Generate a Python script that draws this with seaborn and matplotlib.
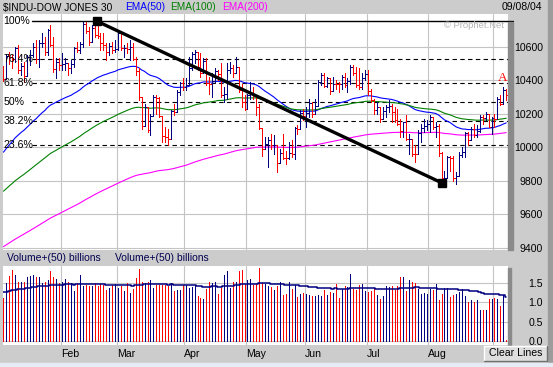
import numpy as np
import pandas as pd
import matplotlib
matplotlib.use("Agg")
import matplotlib.pyplot as plt
import seaborn as sns
from matplotlib.patches import Rectangle
from matplotlib.lines import Line2D

# ---------------- data ----------------
opens = [10454,10409,10544,10538,10529,10592,10458,10485,10427,10538,10553,10600,10528,10623,10623,10568,10702,10610,10468,10510,
         10488,10499,10505,10470,10495,10593,10579,10613,10737,10694,10627,10714,10671,10665,10619,10609,10566,10601,10581,
         10584,10679,10591,10593,10588,10595,10529,10457,10297,10128,10240,10102,10184,10300,10295,10186,10064,10063,10048,10218,10212,10329,10381,
         10357,10373,10470,10558,10570,10480,10442,10515,10381,10377,10397,10452,10437,10314,10318,10461,10472,10444,10478,10343,10272,
         10225,10314,10317,10310,10241,10117,9990,10019,10045,10010,10012,9906,9968,9938,9937,9966,9958,10117,10109,10205,
         10188,10202,10262,10196,10243,10391,10432,10368,10410,10334,10380,10379,10378,10416,10371,10395,10479,10443,10371,10357,10413,
         10435,10334,10282,10219,10240,10171,10213,10238,10247,10208,10163,10140,10094,10149,10046,10050,9962,9961,10085,10117,10129,
         10140,10179,10120,10126,9963,9815,9815,9944,9938,9814,9825,9954,9972,10083,10040,10110,10073,10099,10181,10174,10196,10122,
         10174,10168,10290,10260,10342]
highs = [10484,10556,10569,10548,10600,10610,10502,10510,10550,10580,10620,10640,10640,10680,10660,10705,10730,10660,10530,10530,
         10560,10530,10505,10520,10600,10630,10630,10745,10745,10720,10730,10730,10753,10680,10680,10620,10620,10630,10640,
         10690,10690,10610,10620,10640,10620,10540,10470,10300,10260,10240,10200,10310,10310,10300,10186,10120,10110,10220,10260,10340,10390,10410,
         10410,10540,10570,10580,10570,10560,10530,10530,10420,10440,10470,10460,10500,10360,10500,10510,10490,10540,10480,10380,10310,
         10320,10390,10360,10310,10260,10117,10060,10060,10080,10070,10012,9990,10080,9980,10030,10040,10120,10130,10220,10230,
         10240,10290,10270,10290,10400,10440,10440,10420,10410,10420,10400,10390,10430,10440,10410,10490,10490,10480,10470,10440,10460,
         10460,10350,10290,10270,10240,10240,10250,10280,10260,10240,10230,10170,10150,10190,10080,10050,10010,10100,10140,10170,10160,
         10190,10180,10150,10140,9970,9860,9950,9950,9945,9850,9970,10000,10090,10090,10120,10140,10130,10190,10190,10210,10200,10180,
         10200,10300,10310,10360,10350]
lows = [10395,10409,10497,10470,10509,10443,10430,10390,10427,10490,10540,10505,10480,10600,10550,10550,10605,10450,10410,10460,
        10460,10460,10430,10440,10480,10570,10560,10600,10680,10610,10627,10660,10650,10580,10580,10520,10550,10560,10570,
        10580,10580,10540,10560,10520,10520,10430,10280,10110,10128,10090,10070,10184,10200,10180,10030,10030,10015,10048,10190,10212,10310,10340,
        10340,10373,10460,10500,10460,10420,10442,10370,10320,10300,10390,10400,10300,10270,10290,10440,10420,10440,10330,10240,10220,
        10225,10290,10290,10190,10110,9950,9990,9880,9990,9960,9850,9906,9930,9900,9930,9940,9930,10080,10109,10160,
        10120,10180,10180,10196,10243,10370,10360,10360,10320,10334,10350,10330,10350,10360,10330,10380,10430,10360,10350,10350,10400,
        10310,10270,10200,10200,10150,10171,10180,10210,10150,10150,10130,10060,10060,10040,9960,9950,9910,9961,10030,10090,10100,
        10090,10110,10060,9950,9790,9800,9815,9860,9800,9780,9825,9940,9940,10010,10040,10060,10060,10090,10140,10160,10120,10080,
        10120,10168,10250,10260,10280]
closes = [10409,10544,10538,10529,10592,10458,10485,10427,10538,10553,10600,10528,10623,10623,10568,10702,10610,10468,10510,10488,
          10499,10505,10470,10495,10593,10579,10613,10737,10694,10627,10714,10671,10665,10619,10609,10566,10601,10581,10584,
          10679,10591,10593,10588,10595,10529,10457,10297,10128,10240,10102,10184,10300,10295,10186,10064,10063,10048,10218,10212,10329,10381,10357,
          10373,10470,10558,10570,10480,10442,10515,10381,10377,10397,10452,10437,10314,10318,10461,10472,10444,10478,10343,10272,10225,
          10314,10317,10310,10241,10117,9990,10019,10045,10010,10012,9906,9968,9938,9937,9966,9958,10117,10109,10205,10188,
          10202,10262,10196,10243,10391,10432,10368,10410,10334,10380,10379,10378,10416,10371,10395,10479,10443,10371,10357,10413,10435,
          10334,10282,10219,10240,10171,10213,10238,10247,10208,10163,10140,10094,10149,10046,10050,9962,9961,10085,10117,10129,10140,
          10179,10120,10126,9963,9815,9815,9944,9938,9814,9825,9954,9972,10083,10040,10110,10073,10099,10181,10174,10196,10122,10174,
          10168,10290,10260,10342,10313]
volumes = [1.11,1.49,1.68,1.83,1.71,1.53,1.51,1.53,1.66,1.68,
           1.69,1.66,1.66,1.49,1.51,1.56,1.79,1.64,1.59,1.49,
           1.53,1.59,1.53,1.49,1.28,1.49,1.69,1.41,1.45,1.41,
           1.41,1.49,1.41,1.47,1.45,1.32,1.36,1.45,1.47,1.36,
           1.41,1.28,1.49,1.24,1.34,1.62,1.85,1.51,1.49,1.51,
           1.58,1.36,1.43,1.43,1.43,1.45,1.42,1.49,1.28,1.32,
           1.32,1.44,1.45,1.36,1.38,1.43,1.15,1.11,1.08,1.34,
           1.53,1.49,1.51,1.21,1.36,1.71,1.79,1.36,1.53,1.51,
           1.79,1.83,1.47,1.58,1.59,1.45,1.48,1.88,1.49,1.48,
           1.41,
           1.40,1.31,1.41,1.52,1.18,1.21,1.52,1.33,1.44,1.14,
           1.22,1.24,1.21,1.18,1.16,1.16,1.18,1.16,1.31,1.18,
           1.26,1.24,1.47,1.12,1.33,1.41,1.39,1.72,1.33,1.31,
           1.44,1.47,1.29,1.26,1.29,1.33,1.18,1.09,1.16,1.41,
           1.38,1.41,1.31,1.41,1.64,1.66,1.29,1.57,1.51,1.50,
           1.33,1.21,1.24,1.22,1.33,1.31,1.48,1.05,1.22,1.36,
           1.36,1.14,1.18,1.22,1.25,1.33,1.16,1.01,1.05,1.01,
           1.05,0.81,0.81,0.81,1.09,1.09,1.12,1.07,0.90,1.18,0.03]

month_starts = [20, 39, 62, 83, 103, 124, 145, 167]
month_labels = ["Feb", "Mar", "Apr", "May", "Jun", "Jul", "Aug", ""]
price_ticks = [9400, 9600, 9800, 10000, 10200, 10400, 10600]
price_tick_labels = ["9400", "9600", "9800", "10000", "10200", "10400", "10600"]
vol_ticks = [0.0, 0.5, 1.0, 1.5]
vol_tick_labels = ["0.0", "0.5", "1.0", "1.5"]
trend_x = [31.8, 149.2]
trend_y = [10752, 9786]
fib_ratios = [1.0, 0.764, 0.618, 0.5, 0.382, 0.236]
fib_labels = ["100%", "76.4%", "61.8%", "50%", "38.2%", "23.6%"]
ema_periods = [50, 100, 200]
ema_seeds = [9970, 9737, 9406]
ema_colors = ["#0000ff", "#008000", "#ff00ff"]
vol_ma_period = 50
vol_ma_seed = 1.26
a_mark = (169.9, 10413)

# ---------------- helpers ----------------
def ema(values, period, seed):
    a = 2.0 / (period + 1)
    out = [seed]
    for v in values[1:]:
        out.append(out[-1] + a * (v - out[-1]))
    return np.array(out)

n = len(closes)
x = np.arange(n)
RED, NAVY = "#ff0000", "#000080"
colors = []
for i in range(n):
    ref = opens[0] if i == 0 else closes[i - 1]
    colors.append(RED if closes[i] < ref else NAVY)

sns.set_theme(style="white")
plt.rcParams["font.family"] = ["Liberation Sans", "DejaVu Sans"]

W, H = 553, 367
BG = "#cccccc"
fig = plt.figure(figsize=(W / 100, H / 100), dpi=100, facecolor=BG)

def fx(px):
    return px / W

def fy(py):
    return 1 - py / H

XLIM = (-0.15, 171.6)
GRID = "#c4c4c4"
BAR_LW = 0.55

# ---------------- price panel ----------------
ax = fig.add_axes([fx(3), fy(250), fx(505), 236 / H])
ax.set_facecolor("white")
ax.set_xlim(*XLIM)
ax.set_ylim(9386, 10795)
ax.set_yticks(price_ticks)
ax.set_yticklabels(price_tick_labels)
ax.set_xticks([m - 0.5 for m in month_starts])
ax.set_xticklabels([])
ax.grid(True, color=GRID, lw=0.8)
ax.yaxis.tick_right()
ax.tick_params(axis="y", length=0, pad=25, labelsize=7.6, labelcolor="black")
ax.tick_params(axis="x", length=0)
for lab in ax.get_yticklabels():
    lab.set_horizontalalignment("right")
for s in ax.spines.values():
    s.set_visible(False)

# fib levels
hi, lo = trend_y
ytr = ax.get_yaxis_transform()
for r, lab in zip(fib_ratios, fib_labels):
    lvl = lo + r * (hi - lo)
    if r == 1.0:
        ax.add_line(Line2D([0.058, 1.01], [lvl, lvl], transform=ytr, color="black", lw=1.0, clip_on=False, zorder=2))
    else:
        ax.add_line(Line2D([0.058, 1.0], [lvl, lvl], transform=ytr, color="black", lw=0.8,
                           ls=(0, (4, 3)), zorder=2))
    ax.text(0.001, lvl, lab, transform=ytr, ha="left", va="center", fontsize=7.6, color="black", zorder=6)

# EMAs
for p, s0, c in zip(ema_periods, ema_seeds, ema_colors):
    sns.lineplot(x=x, y=ema(closes, p, s0), ax=ax, color=c, lw=0.8, estimator=None, sort=False, zorder=3)

# OHLC bars
ax.vlines(x, lows, highs, colors=colors, lw=BAR_LW, zorder=4, antialiased=False)
ax.hlines(opens, x - 0.5, x, colors=colors, lw=BAR_LW, zorder=4, antialiased=False)
ax.hlines(closes, x, x + 0.5, colors=colors, lw=BAR_LW, zorder=4, antialiased=False)

# trend line
ax.plot(trend_x, trend_y, color="black", lw=2.4, zorder=5, solid_capstyle="butt")
ax.plot(trend_x, trend_y, ls="none", marker="s", ms=5.6, color="black", zorder=5)

ax.text(a_mark[0], a_mark[1], "A", color="#ff0000", fontsize=9.5, family=["Liberation Serif", "DejaVu Serif"],
        ha="center", va="center", zorder=6)
ax.set_xlabel("")
ax.set_ylabel("")

# ---------------- volume panel ----------------
axv = fig.add_axes([fx(3), fy(345), fx(505), 79 / H])
axv.set_facecolor("white")
axv.set_xlim(*XLIM)
axv.set_ylim(-0.1, 1.93)
axv.set_yticks(vol_ticks)
axv.set_yticklabels(vol_tick_labels)
axv.set_xticks([m - 0.5 for m in month_starts])
axv.set_xticklabels(month_labels)
axv.grid(True, color=GRID, lw=0.8)
axv.yaxis.tick_right()
axv.tick_params(axis="y", length=0, pad=25, labelsize=7.6, labelcolor="black")
axv.tick_params(axis="x", length=0, pad=3, labelsize=7.6, labelcolor="black")
for lab in axv.get_yticklabels():
    lab.set_horizontalalignment("right")
for lab in axv.get_xticklabels():
    lab.set_horizontalalignment("left")
for s in axv.spines.values():
    s.set_visible(False)

axv.vlines(x, 0, volumes, colors=colors, lw=BAR_LW, zorder=3, antialiased=False)
sns.lineplot(x=x, y=ema(volumes, vol_ma_period, vol_ma_seed), ax=axv, color=NAVY, lw=1.1,
             estimator=None, sort=False, drawstyle="steps-mid", zorder=4)
axv.set_xlabel("")
axv.set_ylabel("")

# ---------------- decorations ----------------
fig.patches.append(Rectangle((fx(508), fy(250)), 5 / W, 228 / H, transform=fig.transFigure,
                             color="#8a8a8a", zorder=0))
fig.patches.append(Rectangle((fx(508), fy(346)), 3 / W, 78 / H, transform=fig.transFigure,
                             color="#8a8a8a", zorder=0))
fig.patches.append(Rectangle((fx(548), 0), 5 / W, 1, transform=fig.transFigure, color="#9c9c9c", zorder=0))
fig.patches.append(Rectangle((0, 0), 1, 4 / H, transform=fig.transFigure, color="#e6ecf6", zorder=0))

# header
fig.text(fx(3), fy(7.5), "$INDU-DOW JONES 30", fontsize=7.3, color="black", ha="left", va="center")
fig.text(fx(125), fy(7.5), "EMA(50)", fontsize=7.3, color="#0000ff", ha="left", va="center")
fig.text(fx(170), fy(7.5), "EMA(100)", fontsize=7.3, color="#008000", ha="left", va="center")
fig.text(fx(222), fy(7.5), "EMA(200)", fontsize=7.3, color="#ff00ff", ha="left", va="center")
fig.text(fx(542), fy(7.5), "09/08/04", fontsize=7.6, color="black", ha="right", va="center")
fig.text(fx(474), fy(25), "\u00a9 Prophet.Net", fontsize=6.8, color="#b4b4b4", ha="center", va="center")

fig.text(fx(7), fy(258), "Volume+(50) billions", fontsize=7.5, color="#000050", ha="left", va="center")
fig.text(fx(115), fy(258), "Volume+(50) billions", fontsize=7.5, color="#000050", ha="left", va="center")

# Clear Lines button
fig.patches.append(Rectangle((fx(484), fy(361)), 63 / W, 15 / H, transform=fig.transFigure,
                             facecolor="#dedede", edgecolor="none", zorder=1))
fig.lines.append(Line2D([fx(484), fx(484), fx(547)], [fy(361), fy(346), fy(346)], transform=fig.transFigure,
                        color="white", lw=1.0))
fig.lines.append(Line2D([fx(484), fx(547), fx(547)], [fy(361), fy(361), fy(346)], transform=fig.transFigure,
                        color="#707070", lw=1.0))
fig.text(fx(515.5), fy(353.5), "Clear Lines", fontsize=7.6, color="black", ha="center", va="center")

fig.savefig("out.png", dpi=100, facecolor=BG)
